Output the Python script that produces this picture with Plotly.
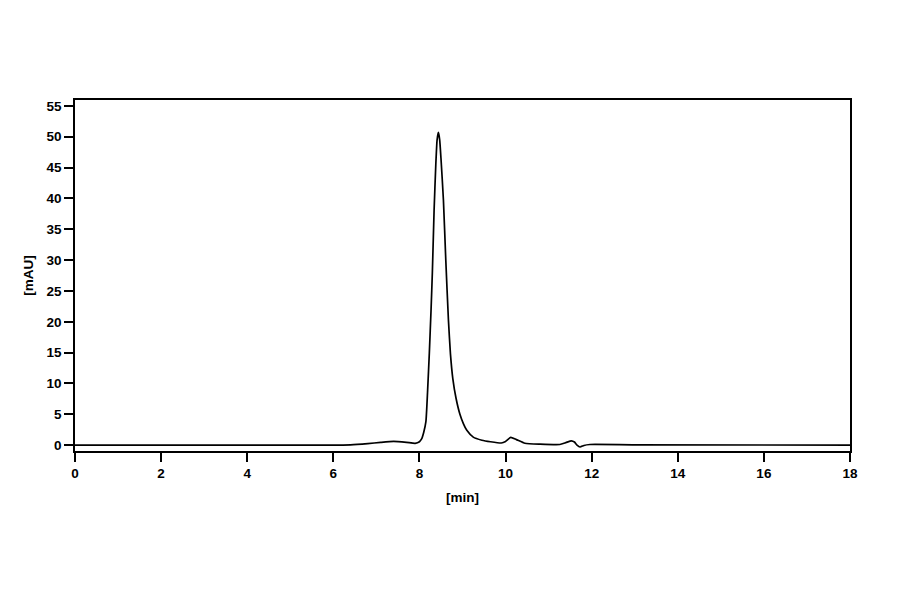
import plotly.graph_objects as go

# chromatogram
time_min = [0.0, 5.9, 6.4, 6.8, 7.1, 7.4, 7.7, 7.9, 8.0, 8.05, 8.1, 8.15,
            8.19, 8.23, 8.27, 8.3, 8.34, 8.38, 8.41, 8.44, 8.47, 8.5,
            8.557, 8.612, 8.673, 8.72, 8.775, 8.85, 8.94, 9.02, 9.1, 9.25,
            9.45, 9.65, 9.9, 10.0, 10.12, 10.25, 10.45, 10.8, 11.26, 11.4,
            11.53, 11.6, 11.66, 11.73, 11.82, 11.96, 13.0, 18.0]
signal_mau = [0.0, 0.0, 0.05, 0.25, 0.45, 0.6, 0.45, 0.3, 0.55, 1.0, 2.1, 3.8,
              8.9, 15.0, 22.0, 28.0, 38.0, 45.5, 49.5, 50.7, 49.5, 46.5,
              39.7, 30.0, 20.3, 14.8, 10.8, 7.6, 5.0, 3.5, 2.4, 1.3,
              0.8, 0.55, 0.35, 0.6, 1.25, 0.9, 0.3, 0.15, 0.1, 0.4,
              0.7, 0.5, 0.0, -0.3, -0.05, 0.1, 0.05, 0.0]

x_ticks = [0, 2, 4, 6, 8, 10, 12, 14, 16, 18]
y_ticks = [0, 5, 10, 15, 20, 25, 30, 35, 40, 45, 50, 55]

font = dict(family="Liberation Sans, Arial, sans-serif", size=13.5, color="black", weight="bold")

fig = go.Figure()
fig.add_trace(go.Scatter(
    x=time_min, y=signal_mau, mode="lines",
    line=dict(color="black", width=1.7, shape="spline", smoothing=0.5),
    showlegend=False,
))

axis_common = dict(
    showline=True, linecolor="black", linewidth=1.5, mirror=True,
    ticks="outside", ticklen=9, tickwidth=1.5, tickcolor="black",
    showgrid=False, zeroline=False, tickfont=font,
)
fig.update_xaxes(range=[0, 18], tickvals=x_ticks,
                 title=dict(text="[min]", font=font, standoff=13),
                 **axis_common)
fig.update_yaxes(range=[-0.95, 55.95], tickvals=y_ticks,
                 title=dict(text="[mAU]", font=font, standoff=10),
                 **axis_common)

# the page body adds an 8px offset, so margins are shifted to compensate
fig.update_layout(
    width=900, height=594,
    margin=dict(l=67, r=58, t=92, b=151, autoexpand=False),
    plot_bgcolor="white", paper_bgcolor="white",
    font=font,
)

fig.write_html("out.html")
